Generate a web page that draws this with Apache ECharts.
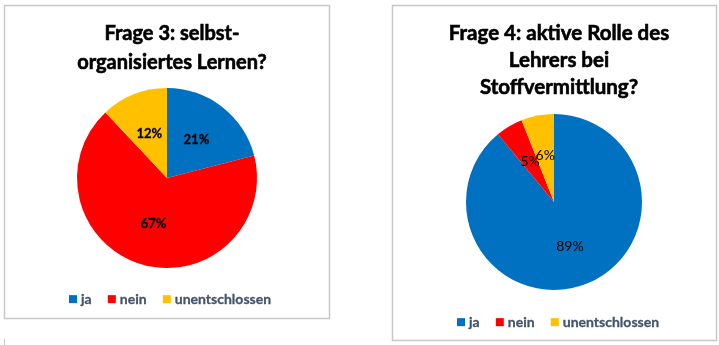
<!DOCTYPE html>
<html>
<head>
<meta charset="utf-8">
<script src="https://cdn.jsdelivr.net/npm/echarts@6/dist/echarts.min.js"></script>
<style>html,body{margin:0;padding:0;background:#fff}#c{width:719px;height:345px}</style>
</head>
<body>
<div id="c"></div>
<script>
const categories = ['ja', 'nein', 'unentschlossen'];
const frage3Values = [21, 67, 12];
const frage4Values = [89, 5, 6];
const colors = ['#0070C0', '#FF0000', '#FFC000'];
const title3 = 'Frage 3: selbst-\norganisiertes Lernen?';
const title4 = 'Frage 4: aktive Rolle des\nLehrers bei\nStoffvermittlung?';

const FONT = 'Lato';
const chart = echarts.init(document.getElementById('c'), null, {renderer: 'canvas'});

function pieData(vals) {
  return categories.map((n, i) => ({name: n, value: vals[i], itemStyle: {color: colors[i]}}));
}

const legendBase = {
  data: categories,
  icon: 'rect',
  itemWidth: 8,
  itemHeight: 8,
  itemGap: 16,
  textStyle: {fontFamily: FONT, fontWeight: 'bold', fontSize: 14, color: '#44546A', padding: [0, 0, 0, -1],
              textBorderColor: '#44546A', textBorderWidth: 0.3},
  selectedMode: false
};

const titleStyle = {fontFamily: FONT, fontWeight: 'bold', fontSize: 20, color: '#000',
                    textBorderColor: '#000', textBorderWidth: 0.6};

chart.setOption({
  animation: false,
  title: [
    {text: title3, left: 167, top: 14, textAlign: 'center',
     textStyle: Object.assign({}, titleStyle, {lineHeight: 29})},
    {text: title4, left: 554, top: 15, textAlign: 'center',
     textStyle: Object.assign({}, titleStyle, {fontSize: 20.5, lineHeight: 27})}
  ],
  legend: [
    Object.assign({}, legendBase, {left: 64, top: 287}),
    Object.assign({}, legendBase, {left: 452, top: 310})
  ],
  graphic: [
    {type: 'rect', shape: {x: 4.5, y: 5.5, width: 325, height: 313}, style: {fill: 'none', stroke: '#c8c8c8', lineWidth: 1.5}, z: -1},
    {type: 'rect', shape: {x: 392.5, y: 5.5, width: 324, height: 335}, style: {fill: 'none', stroke: '#c8c8c8', lineWidth: 1.5}, z: -1},
    {type: 'line', shape: {x1: 4.5, y1: 339, x2: 4.5, y2: 345}, style: {stroke: '#c8c8c8', lineWidth: 1}}
  ],
  series: [
    {
      type: 'pie', center: [167, 178], radius: 90, startAngle: 90, clockwise: true,
      avoidLabelOverlap: false,
      data: pieData(frage3Values),
      label: {show: true, position: 'inside', formatter: '{c}%', fontFamily: FONT, fontWeight: 'bold', fontSize: 13, color: '#000',
              textBorderColor: '#000', textBorderWidth: 0.3},
      labelLine: {show: false},
      labelLayout: {hideOverlap: false},
      itemStyle: {borderWidth: 0},
      emphasis: {disabled: true}
    },
    {
      type: 'pie', center: [554, 202], radius: 88, startAngle: 90, clockwise: true,
      avoidLabelOverlap: false,
      data: pieData(frage4Values),
      label: {show: true, position: 'inside', formatter: '{c}%', fontFamily: FONT, fontWeight: 'normal', fontSize: 14, color: '#000'},
      labelLine: {show: false},
      labelLayout: {hideOverlap: false},
      itemStyle: {borderWidth: 0},
      emphasis: {disabled: true}
    }
  ]
});
</script>
</body>
</html>
